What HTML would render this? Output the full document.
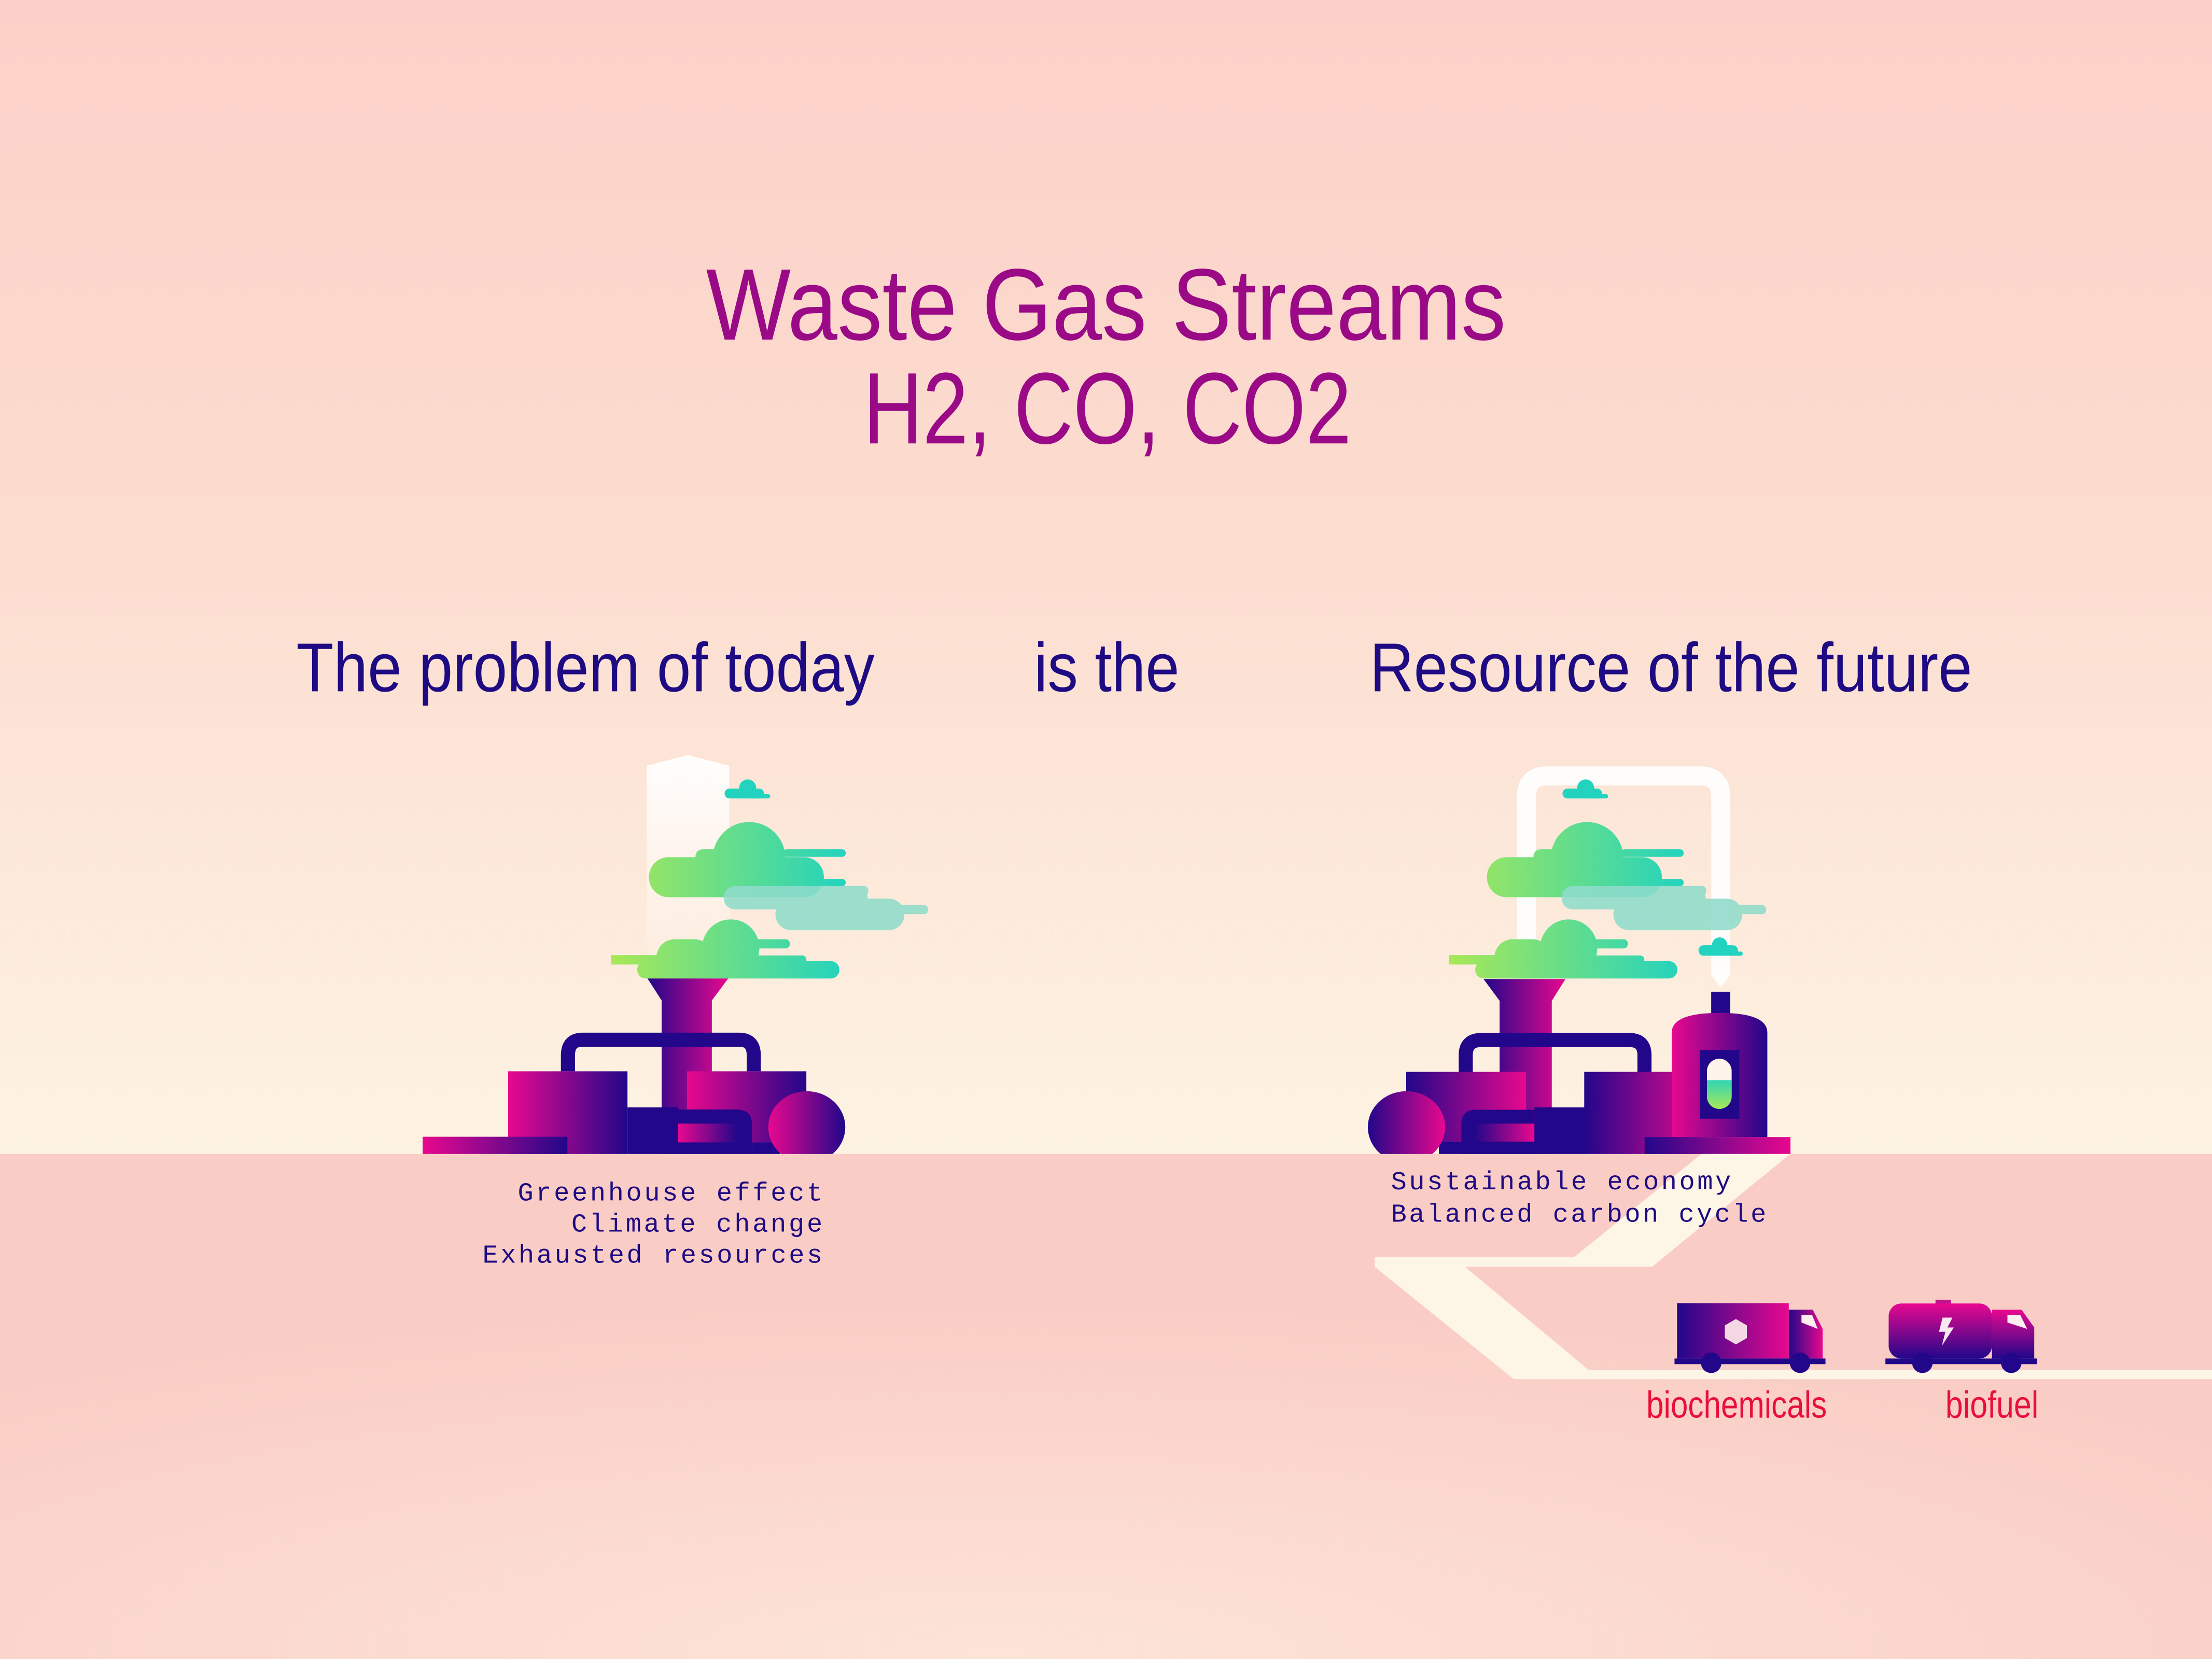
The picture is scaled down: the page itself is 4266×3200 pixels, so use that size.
<!DOCTYPE html>
<html><head><meta charset="utf-8"><style>
html,body{margin:0;padding:0;width:4266px;height:3200px;overflow:hidden;background:#fbd6cc}
svg{display:block}
</style></head><body>
<svg width="4266" height="3200" viewBox="0 0 1568 1176" preserveAspectRatio="none" xmlns="http://www.w3.org/2000/svg">
<defs>
<linearGradient id="sky" x1="0" y1="0" x2="0" y2="1">
<stop offset="0" stop-color="#fcd0c8"/><stop offset="0.45" stop-color="#fcdccf"/><stop offset="1" stop-color="#fdf3e3"/>
</linearGradient>
<radialGradient id="gnd" cx="0.45" cy="1" r="0.7">
<stop offset="0" stop-color="#fde4d8"/><stop offset="1" stop-color="#f9cdc5"/>
</radialGradient>
<linearGradient id="col" x1="0" y1="0" x2="0" y2="1">
<stop offset="0" stop-color="#ffffff" stop-opacity="0.95"/><stop offset="1" stop-color="#ffffff" stop-opacity="0"/>
</linearGradient>
<linearGradient id="mi" x1="0" y1="0" x2="1" y2="0">
<stop offset="0" stop-color="#e8088f"/><stop offset="1" stop-color="#22078a"/>
</linearGradient>
<linearGradient id="im" x1="0" y1="0" x2="1" y2="0">
<stop offset="0" stop-color="#22078a"/><stop offset="1" stop-color="#e8088f"/>
</linearGradient>
<linearGradient id="gc" gradientUnits="userSpaceOnUse" x1="433" y1="0" x2="600" y2="0">
<stop offset="0" stop-color="#a8e857"/><stop offset="1" stop-color="#22d3bf"/>
</linearGradient>
<linearGradient id="tank" x1="0" y1="0" x2="0" y2="1">
<stop offset="0" stop-color="#e8088f"/><stop offset="1" stop-color="#22078a"/>
</linearGradient>
<linearGradient id="liq" x1="0" y1="0" x2="0" y2="1">
<stop offset="0" stop-color="#30d4b5"/><stop offset="1" stop-color="#a8e857"/>
</linearGradient>
<g id="bigcloud">
<rect x="460" y="607.6" width="124" height="28.4" rx="14" fill="url(#gc)"/>
<rect x="493" y="602" width="30" height="16" rx="5" fill="url(#gc)"/>
<circle cx="531" cy="608.5" r="25.8" fill="url(#gc)"/>
<rect x="550" y="613.5" width="23" height="22.5" rx="8" fill="url(#gc)"/>
<rect x="555" y="602" width="44.5" height="5.4" rx="2.7" fill="url(#gc)"/>
<rect x="565" y="623" width="34.5" height="5.2" rx="2.6" fill="url(#gc)"/>
</g>
<g id="tcloud" fill="#8fdccb" opacity="0.88">
<rect x="513" y="628" width="102" height="16.7" rx="8"/>
<rect x="578" y="628" width="37.5" height="6.7" rx="3"/>
<rect x="549.7" y="637" width="91.3" height="22.4" rx="11"/>
<rect x="636" y="641.5" width="22" height="6.5" rx="3"/>
</g>
<g id="lowcloud">
<rect x="433" y="677" width="36" height="6.7" fill="url(#gc)"/>
<rect x="451.7" y="681.3" width="143.3" height="12.3" rx="6" fill="url(#gc)"/>
<rect x="465.3" y="665.8" width="40" height="27.8" rx="13" fill="url(#gc)"/>
<circle cx="518" cy="672" r="20.3" fill="url(#gc)"/>
<rect x="530" y="665.8" width="30" height="6.5" rx="3.2" fill="url(#gc)"/>
<rect x="530" y="677.3" width="41.6" height="8" rx="3" fill="url(#gc)"/>
</g>
<g id="smcloud" fill="#22d3bf">
<circle cx="530" cy="558.5" r="6"/>
<rect x="513.6" y="559" width="28" height="7" rx="3.5"/>
<rect x="530" y="563" width="16" height="3" rx="1.5"/>
</g>
</defs>

<rect x="0" y="0" width="1568" height="818" fill="url(#sky)"/>
<rect x="0" y="818" width="1568" height="358" fill="url(#gnd)"/>

<g font-family="'Liberation Sans Narrow','Liberation Sans',sans-serif" text-anchor="middle">
<text x="784" y="240.7" font-size="72" fill="#9a0a86" textLength="567" lengthAdjust="spacingAndGlyphs">Waste Gas Streams</text>
<text x="785" y="314.3" font-size="72" fill="#9a0a86" textLength="346" lengthAdjust="spacingAndGlyphs">H2, CO, CO2</text>
</g>
<g font-family="'Liberation Sans Narrow','Liberation Sans',sans-serif" font-size="49" fill="#1e0a82">
<text x="210" y="490" textLength="410" lengthAdjust="spacingAndGlyphs">The problem of today</text>
<text x="733" y="490" textLength="103" lengthAdjust="spacingAndGlyphs">is the</text>
<text x="971" y="490" textLength="427" lengthAdjust="spacingAndGlyphs">Resource of the future</text>
</g>

<polygon points="458.4,693 458.4,542.8 487.6,535.3 517,542.8 517,693" fill="url(#col)"/>
<use href="#smcloud"/>
<use href="#bigcloud"/>
<use href="#tcloud"/>
<use href="#lowcloud"/>
<polygon points="459,693.6 516.2,693.6 504.6,709.2 504.6,818 469,818 469,709.2" fill="url(#im)"/>
<path d="M402.6,759.4 V748 Q402.6,737 413,737 H524 Q534.3,737 534.3,748 V759.4" fill="none" stroke="#22078a" stroke-width="10"/>
<rect x="360.2" y="759.4" width="84.6" height="58.6" fill="url(#mi)"/>
<rect x="487" y="759.4" width="84.6" height="50.4" fill="url(#mi)"/>
<rect x="299.6" y="805.8" width="102.6" height="12.2" fill="url(#mi)"/>
<rect x="444.8" y="785" width="36" height="33" fill="#22078a"/>
<path d="M480.6,786.5 H522 Q533,786.5 533,797 V818 H480.6 Z" fill="#22078a"/>
<path d="M480.6,796.5 H519 Q522.6,796.5 522.6,800 V809.8 H480.6 Z" fill="url(#mi)"/>
<rect x="533" y="809.8" width="20" height="8.2" fill="#22078a"/>
<clipPath id="cl1"><rect x="0" y="0" width="1568" height="818"/></clipPath>
<ellipse cx="571.9" cy="799" rx="27.3" ry="25.5" fill="url(#mi)" clip-path="url(#cl1)"/>

<path d="M1082,668 V565 Q1082,550 1097,550 H1205 Q1219.8,550 1219.8,565 V692" fill="none" stroke="#ffffff" stroke-opacity="0.9" stroke-width="13.5"/>
<polygon points="1213,691 1226.5,691 1219.7,700" fill="#ffffff" fill-opacity="0.9"/>
<g transform="translate(594,0)">
<use href="#smcloud"/>
<use href="#bigcloud"/>
<use href="#tcloud"/>
<use href="#lowcloud"/>
</g>
<g fill="#22d3bf">
<circle cx="1219" cy="670" r="5.5"/>
<rect x="1204" y="670" width="28" height="7.5" rx="3.7"/>
<rect x="1220" y="674.5" width="15.4" height="3" rx="1.5"/>
</g>
<polygon points="1051.6,694 1109.7,694 1100,709.4 1100,818 1063,818 1063,709.4" fill="url(#im)"/>
<path d="M1039,759.8 V748 Q1039,737.2 1050,737.2 H1155 Q1165.7,737.2 1165.7,748 V759.8" fill="none" stroke="#22078a" stroke-width="10"/>
<rect x="996.8" y="759.8" width="85" height="49.5" fill="url(#im)"/>
<path d="M1035.9,818 V797 Q1035.9,786.7 1046,786.7 H1087.7 V818 Z" fill="#22078a"/>
<path d="M1045.5,809.3 V800 Q1045.5,796.5 1049,796.5 H1087.7 V809.3 Z" fill="url(#im)"/>
<rect x="1020" y="809.3" width="68" height="8.7" fill="#22078a"/>
<rect x="1087.7" y="785" width="36" height="33" fill="#22078a"/>
<rect x="1123" y="759.8" width="85.5" height="58.2" fill="url(#im)"/>
<rect x="1213" y="703" width="13.5" height="16" fill="#22078a"/>
<path d="M1185,806 V732 Q1185,718 1219,718 Q1252.8,718 1252.8,732 V806 Z" fill="url(#mi)"/>
<rect x="1204.9" y="744.3" width="28.1" height="48.7" fill="#22078a"/>
<rect x="1210" y="750.5" width="17.5" height="35.5" rx="8.7" fill="#fdf3ea"/>
<path d="M1210,765.7 H1227.5 V777.3 A8.75,8.75 0 0 1 1210,777.3 Z" fill="url(#liq)"/>
<ellipse cx="997" cy="799" rx="27.4" ry="25.5" fill="url(#im)" clip-path="url(#cl1)"/>
<rect x="1165.8" y="806" width="103.4" height="12" fill="url(#im)"/>

<polygon points="1206,818 1269,818 1171,898 1038.5,898 1126,971 1568,971 1568,977.6 1073,977.6 974.5,898 974.5,891 1116,891" fill="#fdf6e6"/>

<g font-family="'Liberation Mono',monospace" font-size="18.5" fill="#1e0a82" text-anchor="end">
<text x="583" y="851" textLength="216" lengthAdjust="spacing">Greenhouse effect</text>
<text x="583" y="873" textLength="178" lengthAdjust="spacing">Climate change</text>
<text x="583" y="895" textLength="241" lengthAdjust="spacing">Exhausted resources</text>
</g>
<g font-family="'Liberation Mono',monospace" font-size="18.5" fill="#1e0a82">
<text x="986" y="843" textLength="241" lengthAdjust="spacing">Sustainable economy</text>
<text x="986" y="866" textLength="266" lengthAdjust="spacing">Balanced carbon cycle</text>
</g>

<rect x="1188.8" y="923.8" width="79.2" height="39.2" fill="url(#im)"/>
<path d="M1268,928.4 H1285 L1292,942 V963 H1268 Z" fill="url(#im)"/>
<polygon points="1277,932 1284.5,932 1288.5,942 1277,937.5" fill="#fdeef0"/>
<rect x="1187" y="963" width="107" height="4" fill="#22078a"/>
<circle cx="1213" cy="966" r="7.3" fill="#22078a"/>
<circle cx="1276" cy="966" r="7.3" fill="#22078a"/>
<polygon points="1230.5,935 1238.3,939.5 1238.3,948.5 1230.5,953 1222.7,948.5 1222.7,939.5" fill="#f3d8e4"/>
<rect x="1372" y="921.3" width="11" height="4" fill="#c0138c"/>
<rect x="1338.8" y="924" width="73.2" height="39" rx="9" fill="url(#tank)"/>
<path d="M1412,928.4 H1433 L1442,941 V963 H1412 Z" fill="url(#tank)"/>
<polygon points="1423,932 1432,932 1437,942 1423,937.5" fill="#fdeef0"/>
<rect x="1336.5" y="963" width="107.5" height="4" fill="#22078a"/>
<circle cx="1362.7" cy="966" r="7.3" fill="#22078a"/>
<circle cx="1425.7" cy="966" r="7.3" fill="#22078a"/>
<polygon points="1377,934 1384,934 1380.5,941 1385,941 1376.5,954 1379,944 1374.5,944" fill="#f8e8f0"/>

<g font-family="'Liberation Sans Narrow','Liberation Sans',sans-serif" font-size="27" fill="#e8103a">
<text x="1167" y="1005" textLength="128" lengthAdjust="spacingAndGlyphs">biochemicals</text>
<text x="1379" y="1005" textLength="66" lengthAdjust="spacingAndGlyphs">biofuel</text>
</g>
</svg>
</body></html>
